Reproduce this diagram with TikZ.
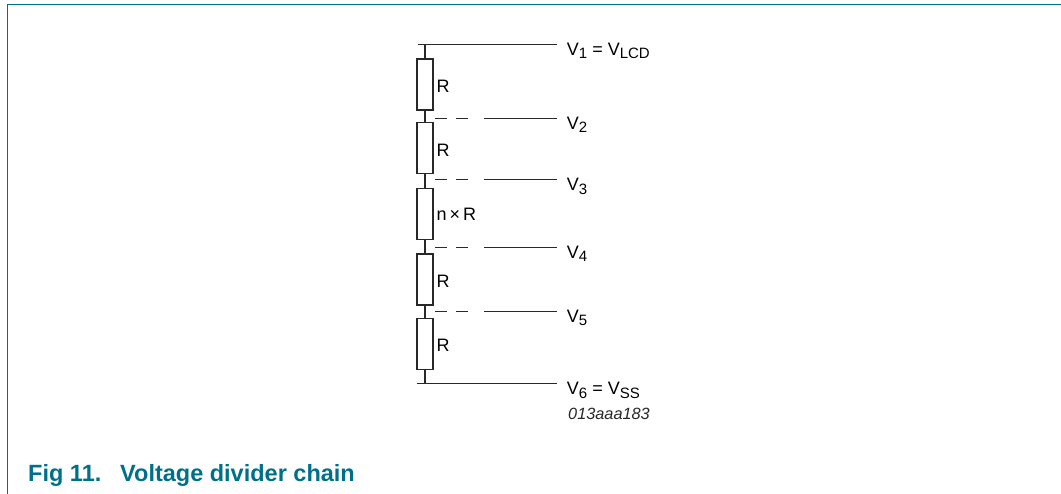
\documentclass[tikz,border=0pt]{standalone}
\usepackage{fontspec}
\setmainfont{Liberation Sans}
\definecolor{nxpteal}{RGB}{0,112,138}
\definecolor{wire}{RGB}{40,40,40}
\newcommand\Vsub[1]{V\raisebox{-0.2em}{\fontsize{15pt}{16pt}\selectfont #1}}
\begin{document}
\begin{tikzpicture}[x=1pt,y=-1pt,
  frameline/.style={draw=nxpteal,line width=1.4pt},
  wireline/.style={draw=wire,line width=1.1pt},
  tapdash/.style={draw=wire,line width=1.1pt,dash pattern=on 12pt off 9pt},
  res/.style={draw=wire,line width=1.1pt,rectangle,minimum width=16pt,minimum height=51pt,inner sep=0pt},
  rlabel/.style={font=\fontsize{18pt}{20pt}\selectfont,inner sep=0pt,anchor=west},
  vlabel/.style={font=\fontsize{18pt}{20pt}\selectfont,inner sep=0pt,anchor=base west},
  codelabel/.style={font=\fontsize{16.3pt}{18pt}\selectfont\itshape,inner sep=0pt,anchor=base west,text=wire},
  caption/.style={font=\fontsize{23.5pt}{26pt}\selectfont\bfseries,text=nxpteal,inner sep=0pt,anchor=base west}]
\useasboundingbox (0,0) rectangle (1061,494);
% frame
\draw[frameline] (7.5,494) -- (7.5,4.5) -- (1061,4.5);
% resistors
\node[res] (r1) at (425,84.5) {};
\node[res] (r2) at (425,148) {};
\node[res] (r3) at (425,213.8) {};
\node[res] (r4) at (425,279.5) {};
\node[res] (r5) at (425,343.8) {};
\node[rlabel] (l1) at (436.5,86.5) {R};
\node[rlabel] (l2) at (436.5,150) {R};
\node[rlabel] (l3) at (436.5,214.5) {n\,×\,R};
\node[rlabel] (l4) at (436.5,281.5) {R};
\node[rlabel] (l5) at (436.5,345.8) {R};
% junctions and ends
\coordinate (j1) at (425,44.3);
\coordinate (t1) at (417.5,44.3);
\coordinate (j6) at (425,383.3);
\coordinate (t6) at (416.5,383.3);
\foreach \i/\y in {1/44.3,2/118.3,3/179.8,4/247.3,5/311.3,6/383.3}{
  \coordinate (e\i) at (557,\y);
  \coordinate (da\i) at (435,\y);
  \coordinate (db\i) at (468,\y);
  \coordinate (s\i) at (484,\y);
}
% main wire
\draw[wireline] (j1) -- (r1.north);
\draw[wireline] (r1.south) -- (r2.north);
\draw[wireline] (r2.south) -- (r3.north);
\draw[wireline] (r3.south) -- (r4.north);
\draw[wireline] (r4.south) -- (r5.north);
\draw[wireline] (r5.south) -- (j6);
% rails
\draw[wireline] (t1) -- (e1);
\draw[wireline] (t6) -- (e6);
% taps
\foreach \i in {2,3,4,5}{
  \draw[tapdash] (da\i) -- (db\i);
  \draw[wireline] (s\i) -- (e\i);
}
% labels
\node[vlabel] (v1) at (566.7,55.3) {\Vsub{1} = \Vsub{LCD}};
\node[vlabel] (v2) at (566.7,129.3) {\Vsub{2}};
\node[vlabel] (v3) at (566.7,190.8) {\Vsub{3}};
\node[vlabel] (v4) at (566.7,258.3) {\Vsub{4}};
\node[vlabel] (v5) at (566.7,322.3) {\Vsub{5}};
\node[vlabel] (v6) at (566.7,394.8) {\Vsub{6} = \Vsub{SS}};
\node[codelabel] (code) at (568,420) {013aaa183};
\node[caption] (cap) at (28,482) {\makebox[92pt][l]{Fig 11.}Voltage divider chain};
\end{tikzpicture}
\end{document}
